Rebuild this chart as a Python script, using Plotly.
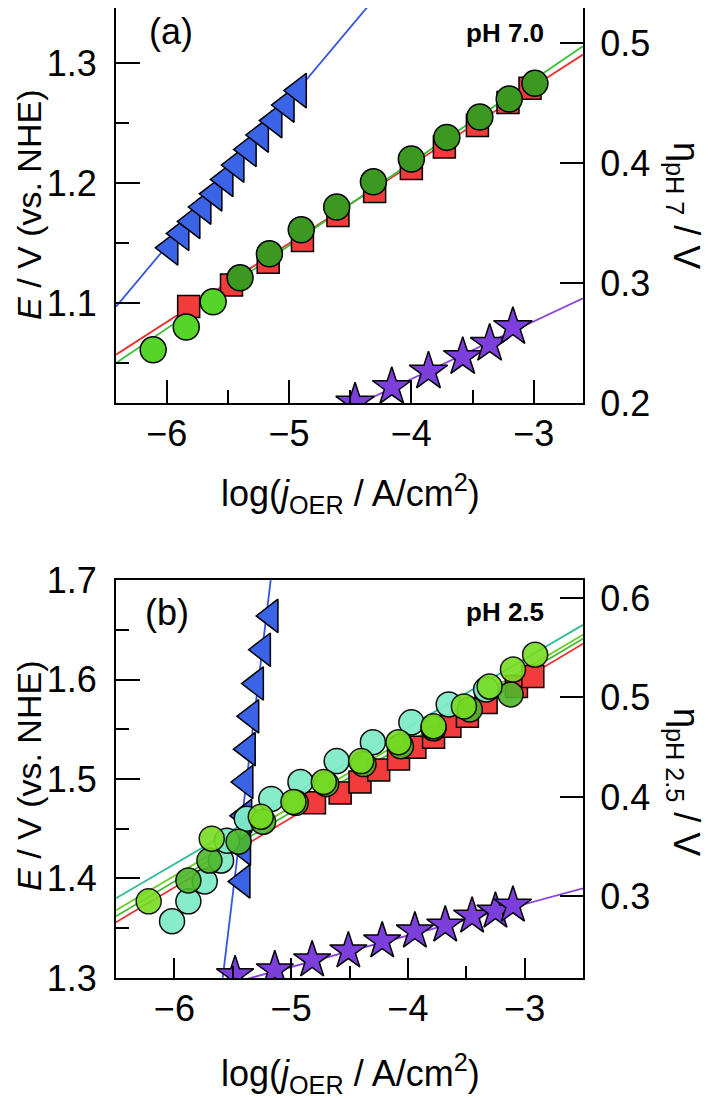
import plotly.graph_objects as go

# ---------------- Panel (a) data : pH 7.0 ----------------
a_tri_x = [-5.97, -5.88, -5.79, -5.70, -5.61, -5.52, -5.43, -5.33, -5.23, -5.12, -5.02, -4.92]
a_tri_E = [1.146, 1.158, 1.168, 1.180, 1.191, 1.203, 1.215, 1.228, 1.240, 1.252, 1.265, 1.277]

a_sq_x = [-5.82, -5.47, -5.17, -4.89, -4.60, -4.30, -4.00, -3.73, -3.46, -3.21, -3.03]
a_sq_E = [1.097, 1.115, 1.134, 1.152, 1.173, 1.193, 1.212, 1.230, 1.248, 1.267, 1.279]

a_circ_x = [-6.11, -5.84, -5.62, -5.40, -5.16, -4.90, -4.61, -4.31, -4.00, -3.71, -3.44, -3.20, -2.99]
a_circ_E = [1.061, 1.080, 1.101, 1.121, 1.141, 1.161, 1.180, 1.201, 1.220, 1.238, 1.255, 1.270, 1.283]

a_star_x = [-4.46, -4.16, -3.86, -3.58, -3.36, -3.17]
a_star_E = [1.017, 1.030, 1.043, 1.055, 1.066, 1.080]

# fitted lines (end points)
a_fit_blue_x, a_fit_blue_E = [-6.414, -4.34], [1.097, 1.349]
a_fit_red_x, a_fit_red_E = [-6.414, -2.597], [1.057, 1.307]
a_fit_green_x, a_fit_green_E = [-6.414, -2.597], [1.050, 1.314]
a_fit_purple_x, a_fit_purple_E = [-4.50, -2.597], [1.0126, 1.104]

# ---------------- Panel (b) data : pH 2.5 ----------------
b_tri_x = [-5.175, -5.24, -5.30, -5.34, -5.37, -5.39, -5.40, -5.41, -5.415]
b_tri_E = [1.664, 1.630, 1.596, 1.563, 1.530, 1.497, 1.463, 1.430, 1.397]

b_sq_x = [-4.80, -4.58, -4.41, -4.25, -4.08, -3.94, -3.78, -3.64, -3.49, -3.33, -3.07, -2.93]
b_sq_E = [1.476, 1.486, 1.497, 1.509, 1.520, 1.532, 1.542, 1.553, 1.563, 1.577, 1.593, 1.603]

b_aqua_x = [-6.02, -5.88, -5.74, -5.60, -5.55, -5.38, -5.17, -4.92, -4.61, -4.30, -3.97, -3.65, -3.33]
b_aqua_E = [1.357, 1.377, 1.397, 1.418, 1.438, 1.460, 1.480, 1.497, 1.518, 1.537, 1.557, 1.575, 1.590]

b_lime_x = [-6.22, -5.68, -5.26, -4.98, -4.72, -4.40, -4.08, -3.78, -3.52, -3.30, -3.10, -2.91]
b_lime_E = [1.377, 1.440, 1.462, 1.477, 1.497, 1.518, 1.537, 1.553, 1.573, 1.593, 1.610, 1.625]

b_green_x = [-5.88, -5.70, -5.45, -5.24, -4.96, -4.70, -4.38, -4.06, -3.78, -3.47, -3.12]
b_green_E = [1.398, 1.418, 1.437, 1.457, 1.476, 1.495, 1.515, 1.533, 1.551, 1.570, 1.585]

b_star_x = [-5.48, -5.14, -4.82, -4.51, -4.22, -3.94, -3.68, -3.45, -3.25, -3.10]
b_star_E = [1.303, 1.308, 1.318, 1.327, 1.337, 1.347, 1.353, 1.362, 1.367, 1.373]

b_fit_blue_x, b_fit_blue_E = [-5.586, -5.175], [1.30, 1.70]
b_fit_red_x, b_fit_red_E = [-6.5, -2.5], [1.356, 1.636]
b_fit_green_x, b_fit_green_E = [-6.5, -2.5], [1.362, 1.641]
b_fit_lime_x, b_fit_lime_E = [-6.5, -2.5], [1.368, 1.645]
b_fit_aqua_x, b_fit_aqua_E = [-6.5, -2.5], [1.380, 1.655]
b_fit_purple_x, b_fit_purple_E = [-5.60, -2.5], [1.292, 1.390]

# axis ranges / ticks
a_xrange = [-6.414, -2.597]
a_Erange = [1.0167, 1.3458]
a_eta_off = 0.8167
b_xrange = [-6.5, -2.5]
b_Erange = [1.2999, 1.7001]
b_eta_off = 1.082

RED, GREEN_L, GREEN_D, BLUE, PURPLE = "#f23c3c", "#55d42a", "#3c9820", "#3a63e6", "#7d3fdc"
AQUA, LIME, GREEN_B = "#80ecc8", "#77dd22", "#4db82a"
OUT = dict(color="black", width=1.5)

fig = go.Figure()


def line(x, y, color, xa, ya):
    fig.add_trace(go.Scatter(x=x, y=y, mode="lines", line=dict(color=color, width=1.8),
                             xaxis=xa, yaxis=ya, showlegend=False, hoverinfo="skip"))


def pts(x, y, symbol, color, size, xa, ya, opacity=1.0):
    fig.add_trace(go.Scatter(x=x, y=y, mode="markers", xaxis=xa, yaxis=ya, showlegend=False,
                             marker=dict(symbol=symbol, color=color, size=size, line=OUT,
                                         opacity=opacity)))


# panel (a)
line(a_fit_red_x, a_fit_red_E, "#ee3030", "x", "y")
line(a_fit_green_x, a_fit_green_E, "#33c033", "x", "y")
line(a_fit_blue_x, a_fit_blue_E, "#3355e0", "x", "y")
line(a_fit_purple_x, a_fit_purple_E, "#8844dd", "x", "y")
pts(a_sq_x, a_sq_E, "square", RED, 22, "x", "y")
a_circ_colors = [GREEN_L, GREEN_L, GREEN_L] + [GREEN_D] * (len(a_circ_x) - 3)
pts(a_circ_x, a_circ_E, "circle", a_circ_colors, 26, "x", "y")
pts(a_tri_x, a_tri_E, "triangle-left", BLUE, 30, "x", "y")
pts(a_star_x, a_star_E, "star", PURPLE, 29, "x", "y")

# panel (b)
line(b_fit_red_x, b_fit_red_E, "#ee3030", "x2", "y3")
line(b_fit_green_x, b_fit_green_E, "#44bb33", "x2", "y3")
line(b_fit_lime_x, b_fit_lime_E, "#66cc22", "x2", "y3")
line(b_fit_aqua_x, b_fit_aqua_E, "#33bb99", "x2", "y3")
line(b_fit_blue_x, b_fit_blue_E, "#3355e0", "x2", "y3")
line(b_fit_purple_x, b_fit_purple_E, "#8844dd", "x2", "y3")
pts(b_tri_x, b_tri_E, "triangle-left", BLUE, 29, "x2", "y3")
pts(b_sq_x, b_sq_E, "square", RED, 22, "x2", "y3")
pts(b_aqua_x, b_aqua_E, "circle", AQUA, 25, "x2", "y3", 0.95)
pts(b_green_x, b_green_E, "circle", GREEN_B, 25, "x2", "y3", 0.9)
pts(b_lime_x, b_lime_E, "circle", LIME, 25, "x2", "y3", 0.9)
pts(b_star_x, b_star_E, "star", PURPLE, 28, "x2", "y3")

# invisible traces so the right-hand overpotential axes get drawn
fig.add_trace(go.Scatter(x=[a_xrange[0]], y=[a_Erange[0] - a_eta_off], mode="markers",
                         marker=dict(opacity=0), xaxis="x", yaxis="y2", showlegend=False, hoverinfo="skip"))
fig.add_trace(go.Scatter(x=[b_xrange[0]], y=[b_Erange[0] - b_eta_off], mode="markers",
                         marker=dict(opacity=0), xaxis="x2", yaxis="y4", showlegend=False, hoverinfo="skip"))

FONT = "Liberation Sans, Arial, sans-serif"
FS = 36
TF = dict(family=FONT, size=FS, color="black")
common = dict(showline=True, linecolor="black", linewidth=2, ticks="inside", tickcolor="black",
              tickwidth=2, showgrid=False, zeroline=False, tickfont=TF, automargin=False)

# page has an 8 px body margin: margins below compensate so the box sits at 116..583 x 8..978
dom_a = [0.5928, 1.0]
dom_b = [0.0, 0.4103]

fig.update_layout(
    width=710, height=1098, plot_bgcolor="white", paper_bgcolor="white",
    margin=dict(l=108, r=135, t=0, b=128, autoexpand=False),
    xaxis=dict(domain=[0, 1], anchor="y", range=a_xrange, dtick=1, tick0=0, ticklen=23, mirror=True,
               minor=dict(dtick=0.5, ticklen=13, tickwidth=2, ticks="inside", tickcolor="black"),
               ticklabelstandoff=-2, **common),
    yaxis=dict(domain=dom_a, anchor="x", range=a_Erange, dtick=0.1, tick0=1.0, ticklen=24,
               minor=dict(dtick=0.05, ticklen=13, tickwidth=2, ticks="inside", tickcolor="black"),
               ticklabelstandoff=10, **common),
    yaxis2=dict(overlaying="y", side="right", anchor="x",
                range=[a_Erange[0] - a_eta_off, a_Erange[1] - a_eta_off],
                dtick=0.1, tick0=0, ticklen=23, ticklabelstandoff=8, tickformat=".1f", **common),
    xaxis2=dict(domain=[0, 1], anchor="y3", range=b_xrange, dtick=1, tick0=0, ticklen=20, mirror=True,
                minor=dict(dtick=0.5, ticklen=12, tickwidth=2, ticks="inside", tickcolor="black"),
                ticklabelstandoff=-2, **common),
    yaxis3=dict(domain=dom_b, anchor="x2", range=b_Erange, dtick=0.1, tick0=1.0, ticklen=24,
                minor=dict(dtick=0.05, ticklen=13, tickwidth=2, ticks="inside", tickcolor="black"),
                ticklabelstandoff=10, tickformat=".1f", **common),
    yaxis4=dict(overlaying="y3", side="right", anchor="x2",
                range=[b_Erange[0] - b_eta_off, b_Erange[1] - b_eta_off],
                dtick=0.1, tick0=0, ticklen=23, ticklabelstandoff=8, tickformat=".1f", **common),
)


def px2paper(px, py):
    # page pixel -> paper fraction (plot area spans page x 116..583, y 8..978)
    return (px - 116) / 467.0, (978 - py) / 970.0


def ann(text, px, py, size=FS, angle=0, bold=False):
    x, y = px2paper(px, py)
    t = f"<b>{text}</b>" if bold else text
    fig.add_annotation(text=t, x=x, y=y, xref="paper", yref="paper", showarrow=False,
                       xanchor="center", yanchor="middle", textangle=angle,
                       font=dict(family=FONT, size=size, color="black"))


ann("(a)", 171, 31)
ann("pH 7.0", 505, 33, size=26, bold=True)
ann("(b)", 167, 612)
ann("pH 2.5", 505, 612, size=26, bold=True)
ann("<i>E</i> / V (vs. NHE)", 29, 205, size=34, angle=-90)
ann("<i>E</i> / V (vs. NHE)", 29, 776, size=34, angle=-90)
ann("η<sub>pH 7</sub> / V", 684, 205, angle=90)
ann("η<sub>pH 2.5</sub> / V", 684, 782, angle=90)
ann("log(<i>j</i><sub>OER</sub> / A/cm<sup>2</sup>)", 350, 493)
ann("log(<i>j</i><sub>OER</sub> / A/cm<sup>2</sup>)", 350, 1073)

fig.write_html("out.html")
